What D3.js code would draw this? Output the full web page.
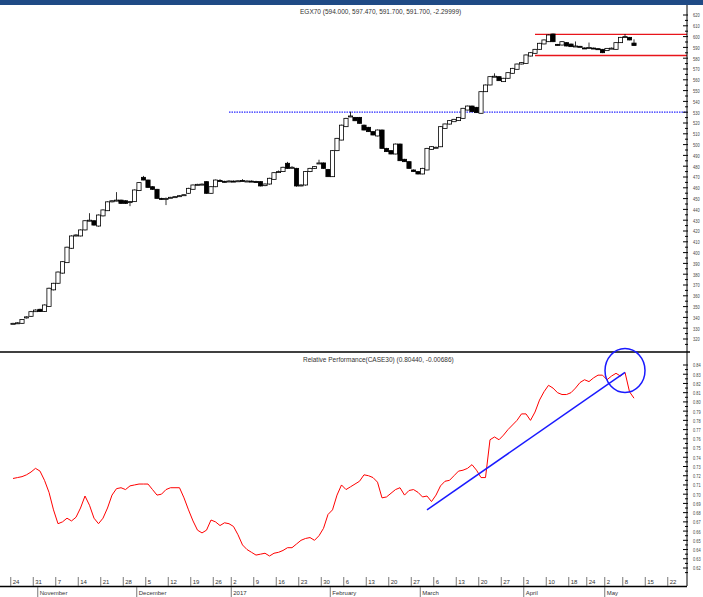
<!DOCTYPE html>
<html>
<head>
<meta charset="utf-8">
<script src="https://cdn.jsdelivr.net/npm/d3@7"></script>
<style>
  body { margin: 0; background: #fff; }
  svg { display: block; }
  text { font-family: "Liberation Sans Narrow", "Liberation Sans", Arial, sans-serif; }
</style>
</head>
<body>
<div class="chart"></div>
<script>
var svgWidth = 703;
var svgHeight = 597;

// daily candles, trading-day index 0..138
var opens = [334.5,334.5,334.5,339.5,341,345.3,347.5,345.5,350,365.5,371.6,381,390.7,404,415.4,415.4,421,429.5,429.5,424.6,
  434,438.8,447,448,448.6,448,447,447.2,457.4,469.7,467.2,461,458.6,450.2,449.8,450.8,451.4,452.2,453.2,454.9,
  458.6,462.8,463,465.7,454.9,461,466.8,466,465.9,466.2,466.2,466.8,466,466.2,465.8,465.7,462,463.5,467.8,474.4,
  475,482.7,478.5,478,462,462.6,475,478,482.5,483,477,470.3,494.4,504.2,516.6,526,525.2,525.2,518,516,
  512,508,513.5,496.5,494.4,491.3,500.5,486.4,484.2,476.5,475,472.8,476.5,495.6,497.2,498,515,519,521.2,522.2,
  524.3,532,535.7,534.5,529,549,555.2,562.9,562.9,558.3,561.4,566,569.7,574.6,575.2,582,584.5,588.2,593.2,595.3,
  602.4,592.8,592.2,594.4,593.1,591,591,589.5,589.6,589.4,588.8,588.2,587,589.1,588.2,594.4,599.5,599.3,594];
var highs = [335,335.5,338.5,341,346,347.5,348,352,367.5,372,382.5,392,405.5,416,417,421.5,430,436.5,430,435.3,
  440,447.5,448.5,456,449,448.5,447.8,458.5,465.3,471,467.5,461.5,459,450.8,451,451.6,452.3,453.2,454,460,
  463,463.7,464,466,461.5,467.6,468,466.5,467,466.8,467,468,466.8,466.8,466.5,466.2,464,469.3,474.5,476,
  479.5,484,480,478.5,463.2,475.5,478.5,480,486,483.5,477.5,494.8,506.2,518.5,524.8,530.5,525.6,525.6,518.5,516.4,
  512.4,514,514,497,494.8,501,501,486.8,484.6,477,475.5,478.5,497,498.5,498.2,517,519.5,522.6,523.8,525.6,
  534,536.1,536.1,534.9,549.4,555.6,563.3,566,563.3,561.8,567,571,575,576.3,583.4,585.5,588.6,594.2,597.3,602,
  602.8,593.2,595.7,594.8,593.5,595.5,591.4,589.9,594.5,589.8,589.2,588.6,589.5,589.9,594.8,599.7,602.4,599.7,597.47];
var lows = [334,334,334,339,340.5,345,345,345,350,365,371,380.5,390.5,403.5,415,415,420.5,429,425,424,
  433.5,438.5,446.5,447.5,445,445,443,447,457,467,460,458,450,449,444,450.5,451,452,453,454.5,
  458.3,462.5,462.5,454.5,454.5,460.6,466.2,465,465.5,465.6,466,466.2,465.5,465.6,465,461.3,461.5,463,467.5,474,
  474.6,477.5,477.8,461,461.5,462,474.5,477.5,482,477.5,470,470,494,504,516.3,525.5,521.8,519.4,513.2,511.7,
  508.6,507.6,496.2,493.2,491,491,484.8,483.9,477.7,474.6,472.4,472.5,476.2,495.3,496.9,497.7,514.7,518.7,520.9,521.9,
  524,531.7,530.2,529.3,528.7,548.7,554.9,562.5,558.9,558,561.1,565.7,569.4,574.3,574.9,581.7,584.2,587.9,592.9,595,
  594.9,591.8,591.9,591,590.4,590.6,590.3,588.7,589.2,588.7,588.1,584.7,586.7,588.5,587.9,594.1,599.1,596.6,591.7];
var closes = [334.5,335,338,340.5,345.3,346.8,345.5,351.5,367,371.6,382,391.6,405,415.4,416.3,421,429.5,430,425.5,434.8,
  439.5,447,448,448.6,445.6,445.6,447.2,458,464.8,467.2,460.4,458.6,450.2,449.5,450.2,451.2,451.8,452.7,453.6,459.5,
  462.6,463.2,463.4,454.9,461,467.2,466.6,465.7,466.3,466,466.5,466.6,466.3,466,465.4,461.7,463.5,468.8,474,475,
  479,478,479,461.7,462.6,475,478,479.6,483,478,470.3,494.4,505.8,518,524.3,526.5,522.1,519.7,513.5,512,
  508.9,513.5,496.5,493.5,491.3,500.5,485.1,484.2,478,475,472.8,478,496.5,498.1,497.5,516.6,519.1,522.2,523.4,525.2,
  533.6,535.7,530.5,529.6,549,555.2,562.9,563.3,559.2,561.4,566.6,570.6,574.6,575.9,583,585.1,588.2,593.8,596.9,601.5,
  595.3,592.2,595.3,591.3,590.7,591.3,590.7,589.1,590,589.1,588.5,585.1,589.1,589.3,594.4,599.3,600,596.9,591.7];

// relative performance vs CASE30, same trading days
var relPerf = [0.717,0.718,0.719,0.721,0.724,0.728,0.725,0.715,0.702,0.683,0.668,0.670,0.674,0.671,0.675,0.685,0.698,0.688,0.674,0.668,
  0.674,0.685,0.699,0.706,0.707,0.705,0.709,0.710,0.711,0.711,0.711,0.705,0.699,0.700,0.705,0.707,0.707,0.707,0.696,0.683,
  0.671,0.661,0.658,0.661,0.672,0.670,0.666,0.669,0.668,0.665,0.656,0.645,0.640,0.637,0.634,0.635,0.636,0.633,0.636,0.637,
  0.639,0.642,0.642,0.646,0.650,0.652,0.653,0.650,0.655,0.663,0.678,0.683,0.699,0.710,0.705,0.708,0.711,0.714,0.721,0.720,
  0.718,0.713,0.696,0.697,0.701,0.705,0.707,0.699,0.704,0.705,0.702,0.697,0.698,0.692,0.699,0.709,0.714,0.715,0.720,0.725,
  0.726,0.728,0.732,0.726,0.718,0.718,0.759,0.762,0.759,0.764,0.770,0.775,0.780,0.787,0.787,0.780,0.789,0.802,0.811,0.818,
  0.815,0.810,0.808,0.808,0.810,0.815,0.821,0.824,0.822,0.826,0.829,0.829,0.824,0.828,0.831,0.828,0.832,0.811,0.804];

// support / resistance and trend annotations
var resistance = 602, support = 582.5, breakout = 530;
var channelStart = 116, breakoutStart = 48;
var trendIdx = [92, 136], trendVal = [0.683, 0.832];
var circleIdx = 136, circleVal = 0.834;

// x-axis labels (week starts, months)
var weekIdx = [0,5,10,15,20,25,30,35,40,45,49,54,59,64,69,74,79,84,89,94,99,104,109,114,119,124,128,132,136,141,146];
var weekLabels = ["24","31","7","14","21","28","5","12","19","26","2","9","16","23","30","6","13","20","27","6","13","20","27","3","10","18","24","2","8","15","22"];
var monthIdx = [6,28,49,71,91,114,132];
var monthLabels = ["November","December","2017","February","March","April","May"];

var priceTicks = d3.range(320, 621, 10);
var rsTicks = d3.range(0.62, 0.8401, 0.01);

var axisX = 687;

var svg = d3.select(".chart").append("svg")
  .attr("width", svgWidth)
  .attr("height", svgHeight);

// header band
svg.append("rect").attr("x", 0).attr("y", 0).attr("width", svgWidth).attr("height", 5).attr("fill", "#1f4a85");

var x = d3.scaleLinear().domain([0, 138]).range([13, 634]);
var yPrice = d3.scaleLinear().domain([320, 620]).range([339, 15]);
var yRel = d3.scaleLinear().domain([0.62, 0.84]).range([568, 365]);

// titles
svg.append("text").attr("x", 300).attr("y", 14).attr("font-size", "6.5px").attr("fill", "#333")
  .text("EGX70 (594.000, 597.470, 591.700, 591.700, -2.29999)");
svg.append("text").attr("x", 303).attr("y", 362).attr("font-size", "6.5px").attr("fill", "#333")
  .text("Relative Performance(CASE30) (0.80440, -0.00686)");

// horizontal reference lines
svg.append("line")
  .attr("x1", x(breakoutStart)).attr("x2", axisX)
  .attr("y1", yPrice(breakout)).attr("y2", yPrice(breakout))
  .attr("stroke", "#2b2bff").attr("stroke-width", 1.3).attr("stroke-dasharray", "1.5,1");
[resistance, support].forEach(function (lvl) {
  svg.append("line")
    .attr("x1", x(channelStart)).attr("x2", axisX)
    .attr("y1", yPrice(lvl)).attr("y2", yPrice(lvl))
    .attr("stroke", "#e8141b").attr("stroke-width", 1.3);
});

// candles
var candles = svg.append("g").selectAll("g")
  .data(d3.range(closes.length))
  .enter().append("g");

candles.append("line")
  .attr("x1", d => x(d)).attr("x2", d => x(d))
  .attr("y1", d => yPrice(highs[d])).attr("y2", d => yPrice(lows[d]))
  .attr("stroke", "#000").attr("stroke-width", 0.8);

candles.append("rect")
  .attr("x", d => x(d) - 2.1)
  .attr("width", 4.2)
  .attr("y", d => yPrice(Math.max(opens[d], closes[d])))
  .attr("height", d => Math.max(1, Math.abs(yPrice(opens[d]) - yPrice(closes[d]))))
  .attr("fill", d => closes[d] >= opens[d] ? "#fff" : "#000")
  .attr("stroke", "#000").attr("stroke-width", 0.8);

// panel separator
svg.append("line").attr("x1", 0).attr("x2", 690).attr("y1", 352).attr("y2", 352)
  .attr("stroke", "#000").attr("stroke-width", 1.5);

// relative performance line
var rsLine = d3.line().x((d, i) => x(i)).y(d => yRel(d));
svg.append("path").datum(relPerf)
  .attr("d", rsLine)
  .attr("fill", "none").attr("stroke", "#ff0000").attr("stroke-width", 1);

// trend line and circle
svg.append("line")
  .attr("x1", x(trendIdx[0])).attr("y1", yRel(trendVal[0]))
  .attr("x2", x(trendIdx[1])).attr("y2", yRel(trendVal[1]))
  .attr("stroke", "#1a1aff").attr("stroke-width", 1.5);
svg.append("ellipse")
  .attr("cx", x(circleIdx)).attr("cy", yRel(circleVal))
  .attr("rx", 20).attr("ry", 22)
  .attr("fill", "none").attr("stroke", "#1a1aff").attr("stroke-width", 1.5);

// right axes
var priceAxis = svg.append("g").attr("transform", `translate(${axisX},0)`)
  .call(d3.axisRight(yPrice).tickValues(priceTicks).tickFormat(d3.format("d")).tickSize(0));
var rsAxis = svg.append("g").attr("transform", `translate(${axisX},0)`)
  .call(d3.axisRight(yRel).tickValues(rsTicks).tickFormat(d3.format(".2f")).tickSize(0));
[priceAxis, rsAxis].forEach(function (g) {
  g.select(".domain").remove();
  // narrow labels, squeezed horizontally like the original condensed font
  g.selectAll("text").attr("font-size", "6px").attr("fill", "#444")
    .attr("x", 0).attr("transform", "translate(6,0) scale(0.66,1)");
});
svg.append("line").attr("x1", axisX).attr("x2", axisX).attr("y1", 5).attr("y2", 586)
  .attr("stroke", "#000").attr("stroke-width", 1);

function ticks(scale, vals, len) {
  svg.append("g").selectAll("line").data(vals).enter().append("line")
    .attr("x1", axisX - len).attr("x2", axisX + 1)
    .attr("y1", d => scale(d)).attr("y2", d => scale(d))
    .attr("stroke", "#000").attr("stroke-width", 1);
}
ticks(yPrice, priceTicks, 4);
ticks(yPrice, d3.range(315, 621, 10), 2);
ticks(yRel, rsTicks, 4);
ticks(yRel, d3.range(0.615, 0.845, 0.01), 2);

// x axis: week row and month row
var xa = svg.append("g");
xa.append("line").attr("x1", 0).attr("x2", axisX).attr("y1", 586.5).attr("y2", 586.5)
  .attr("stroke", "#000").attr("stroke-width", 1.5);
xa.selectAll(".wk").data(weekIdx).enter().append("line")
  .attr("x1", d => x(d - 0.5)).attr("x2", d => x(d - 0.5))
  .attr("y1", 577).attr("y2", 586)
  .attr("stroke", "#555").attr("stroke-width", 0.8);
xa.selectAll(".wkt").data(weekIdx).enter().append("text")
  .attr("x", d => x(d - 0.5) + 2).attr("y", 583.5)
  .attr("font-size", "6px").attr("fill", "#333")
  .text((d, i) => weekLabels[i]);
xa.selectAll(".mo").data(monthIdx).enter().append("line")
  .attr("x1", d => x(d - 0.5)).attr("x2", d => x(d - 0.5))
  .attr("y1", 587).attr("y2", 597)
  .attr("stroke", "#555").attr("stroke-width", 0.8);
xa.selectAll(".mot").data(monthIdx).enter().append("text")
  .attr("x", d => x(d - 0.5) + 2).attr("y", 595)
  .attr("font-size", "6px").attr("fill", "#333")
  .text((d, i) => monthLabels[i]);
</script>
</body>
</html>
